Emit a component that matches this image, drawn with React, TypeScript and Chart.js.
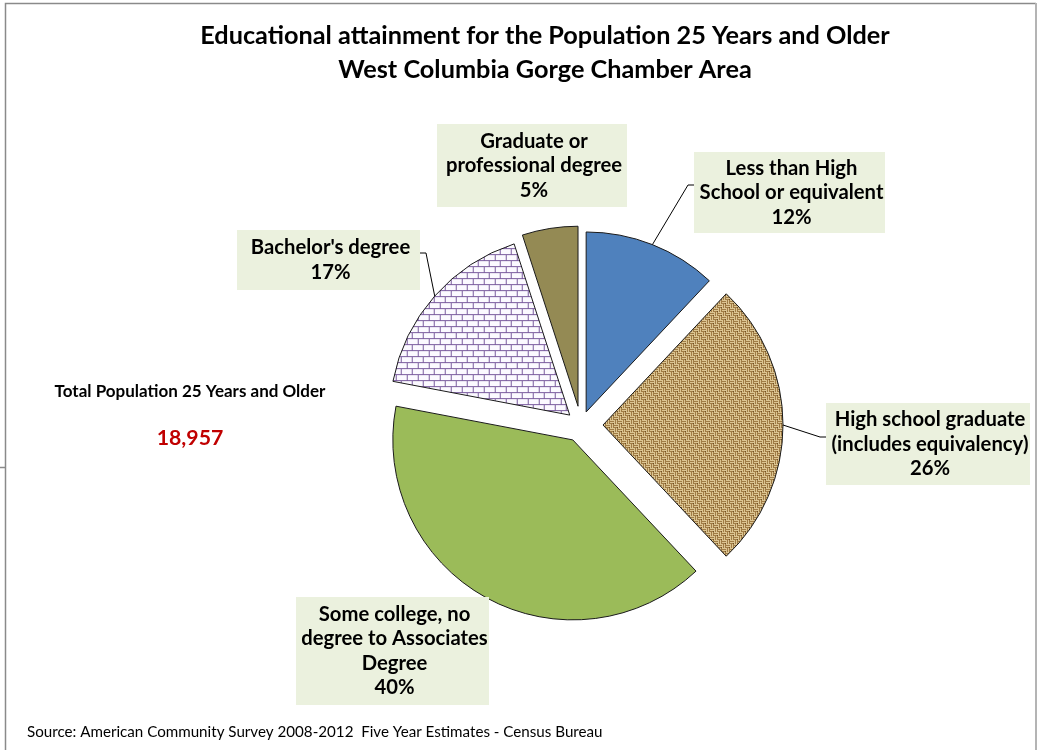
import React, { useEffect, useRef } from 'react';
import { Chart, PieController, ArcElement } from 'chart.js';

// ---------- data ----------
const categories = [
  'Less than High School or equivalent',
  'High school graduate (includes equivalency)',
  'Some college, no degree to Associates Degree',
  "Bachelor's degree",
  'Graduate or professional degree',
];
const labelLines = [
  ['Less than High', 'School or equivalent'],
  ['High school graduate', '(includes equivalency)'],
  ['Some college, no', 'degree to Associates', 'Degree'],
  ["Bachelor's degree"],
  ['Graduate or', 'professional degree'],
];
const shares = [12, 26, 40, 17, 5];
const totalPopulation = 18957;
const titleLines = [
  'Educational attainment for the Population 25 Years and Older',
  'West Columbia Gorge Chamber Area',
];
const totalLabel = 'Total Population 25 Years and Older';
const sourceText = 'Source: American Community Survey 2008-2012  Five Year Estimates - Census Bureau';

// ---------- layout / style ----------
const explode = [14, 22, 17, 15, 19];
const labelBoxes = [
  { x: 694, y: 152, w: 191, h: 81, side: 'left', leaderY: 185 },
  { x: 826, y: 403, w: 204, h: 82, side: 'left', leaderY: 437 },
  { x: 296, y: 597, w: 193, h: 108, side: null, leaderY: null },
  { x: 237, y: 230, w: 183, h: 60, side: 'right', leaderY: 253 },
  { x: 437, y: 124, w: 190, h: 83, side: null, leaderY: null },
];
const FONT = 'Lato';

class ExplodedArc extends ArcElement {
  static id = 'explodedArc';
  draw(ctx: CanvasRenderingContext2D) {
    const self = this as any;
    const saved = self.options;
    const off = (saved && saved.offset) || 0;
    const half = (self.startAngle + self.endAngle) / 2;
    self.options = Object.assign({}, saved, { offset: 0 });
    ctx.save();
    ctx.translate(Math.cos(half) * off, Math.sin(half) * off);
    super.draw(ctx);
    ctx.restore();
    self.options = saved;
  }
}
class ExplodedPieController extends PieController {
  static id = 'explodedPie';
  static defaults = { dataElementType: 'explodedArc' };
}
Chart.register(ExplodedArc as any, ExplodedPieController as any);

function makeBrickPattern(ctx: CanvasRenderingContext2D) {
  const c = document.createElement('canvas');
  c.width = 22; c.height = 12;
  const g = c.getContext('2d')!;
  g.fillStyle = '#fbf9ff';
  g.fillRect(0, 0, 22, 12);
  g.fillStyle = '#7a5c9e';
  g.fillRect(0, 0, 22, 1);
  g.fillRect(0, 6, 22, 1);
  g.fillRect(0, 0, 1, 6);
  g.fillRect(11, 0, 1, 6);
  g.fillRect(5, 6, 1, 6);
  g.fillRect(16, 6, 1, 6);
  return ctx.createPattern(c, 'repeat');
}

function makeBurlapPattern(ctx: CanvasRenderingContext2D) {
  const c = document.createElement('canvas');
  c.width = 8; c.height = 8;
  const g = c.getContext('2d')!;
  const light = '#dcc592', mid = '#a07c45', dark = '#6e5028';
  g.fillStyle = mid; g.fillRect(0, 0, 8, 8);
  g.fillStyle = light;
  // horizontal threads
  g.fillRect(0, 0, 4, 1); g.fillRect(0, 2, 4, 1);
  g.fillRect(4, 4, 4, 1); g.fillRect(4, 6, 4, 1);
  // vertical threads
  g.fillRect(4, 0, 1, 4); g.fillRect(6, 0, 1, 4);
  g.fillRect(0, 4, 1, 4); g.fillRect(2, 4, 1, 4);
  g.fillStyle = dark;
  g.fillRect(3, 3, 1, 1); g.fillRect(7, 7, 1, 1);
  return ctx.createPattern(c, 'repeat');
}

function fitSize(ctx: CanvasRenderingContext2D, text: string, weight: string, target: number) {
  ctx.font = `${weight} 100px ${FONT}`;
  const w = ctx.measureText(text).width;
  return (100 * target) / w;
}

const annotate = {
  id: 'annotate',
  afterDraw(chart: any) {
    const ctx: CanvasRenderingContext2D = chart.ctx;
    const meta = chart.getDatasetMeta(0);
    const total = shares.reduce((a, b) => a + b, 0);
    ctx.save();

    // frame
    ctx.strokeStyle = '#8a8a8a';
    ctx.lineWidth = 1.5;
    ctx.beginPath();
    ctx.moveTo(5.5, 750); ctx.lineTo(5.5, 3.5); ctx.lineTo(1036, 3.5);
    ctx.moveTo(0, 467.5); ctx.lineTo(5.5, 467.5);
    ctx.stroke();
    ctx.strokeStyle = '#b4b4b4';
    ctx.lineWidth = 2;
    ctx.beginPath();
    ctx.moveTo(1036, 3); ctx.lineTo(1036, 750);
    ctx.stroke();

    // title
    ctx.fillStyle = '#000';
    ctx.textAlign = 'center';
    ctx.textBaseline = 'middle';
    const ts = fitSize(ctx, titleLines[0], 'bold', 690);
    ctx.font = `bold ${ts}px ${FONT}`;
    ctx.fillText(titleLines[0], 545, 36);
    ctx.fillText(titleLines[1], 545, 70);

    // total population
    const ps = fitSize(ctx, totalLabel, 'bold', 271);
    ctx.font = `bold ${ps}px ${FONT}`;
    ctx.fillText(totalLabel, 190, 392);
    ctx.fillStyle = '#C00000';
    ctx.font = `bold ${ps * 1.25}px ${FONT}`;
    ctx.fillText(totalPopulation.toLocaleString('en-US'), 190, 438);

    // source
    ctx.fillStyle = '#000';
    ctx.textAlign = 'left';
    const ss = fitSize(ctx, sourceText, 'normal', 576);
    ctx.font = `normal ${ss}px ${FONT}`;
    ctx.fillText(sourceText, 27, 732);

    // data labels
    const ls = fitSize(ctx, '(includes equivalency)', 'bold', 197);
    const lh = 24.5;
    labelBoxes.forEach((b, i) => {
      const el = meta.data[i];
      if (b.side && el) {
        const half = (el.startAngle + el.endAngle) / 2;
        const r = el.outerRadius + ((el.options && el.options.offset) || 0);
        const px = el.x + Math.cos(half) * r;
        const py = el.y + Math.sin(half) * r;
        const bx = b.side === 'left' ? b.x : b.x + b.w;
        const kx = b.side === 'left' ? bx - 6 : bx + 6;
        ctx.strokeStyle = '#000';
        ctx.lineWidth = 1;
        ctx.beginPath();
        ctx.moveTo(bx, b.leaderY as number);
        ctx.lineTo(kx, b.leaderY as number);
        ctx.lineTo(px, py);
        ctx.stroke();
      }
      ctx.fillStyle = '#EBF1DE';
      ctx.fillRect(b.x, b.y, b.w, b.h);
      const lines = [...labelLines[i], Math.round((shares[i] / total) * 100) + '%'];
      ctx.fillStyle = '#000';
      ctx.textAlign = 'center';
      ctx.textBaseline = 'middle';
      ctx.font = `bold ${ls}px ${FONT}`;
      const top = b.y + (b.h - lines.length * lh) / 2 + lh / 2;
      lines.forEach((t, k) => ctx.fillText(t, b.x + b.w / 2 + 2, top + k * lh));
    });
    ctx.restore();
  },
};

export default function App() {
  const ref = useRef<HTMLCanvasElement | null>(null);
  useEffect(() => {
    const canvas = ref.current!;
    const ctx = canvas.getContext('2d')!;
    const chart = new Chart(ctx, {
      type: 'explodedPie' as any,
      data: {
        labels: categories,
        datasets: [
          {
            data: shares,
            backgroundColor: ['#4F81BD', makeBurlapPattern(ctx), '#9BBB59', makeBrickPattern(ctx), '#948A54'] as any,
            borderColor: '#1a1a1a',
            borderWidth: 1,
            offset: explode,
          } as any,
        ],
      },
      options: {
        responsive: false,
        animation: false,
        devicePixelRatio: 1,
        radius: 180,
        events: [],
        layout: { padding: { left: 331, right: 207, top: 175, bottom: 75 } },
        plugins: { legend: { display: false }, tooltip: { enabled: false } },
      } as any,
      plugins: [annotate],
    });
    return () => chart.destroy();
  }, []);
  return (
    <div style={{ position: 'absolute', left: 0, top: 0, width: 1038, height: 750, background: '#fff' }}>
      <canvas ref={ref} width={1038} height={750} style={{ display: 'block' }} />
    </div>
  );
}
